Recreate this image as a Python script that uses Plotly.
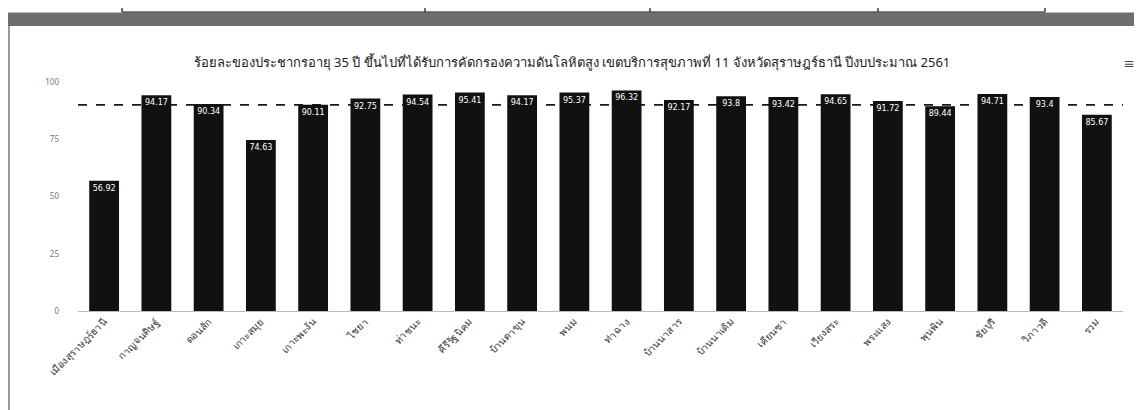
import plotly.graph_objects as go

title_text = "ร้อยละของประชากรอายุ 35 ปี ขึ้นไปที่ได้รับการคัดกรองความดันโลหิตสูง เขตบริการสุขภาพที่ 11 จังหวัดสุราษฎร์ธานี ปีงบประมาณ 2561"
districts = ["เมืองสุราษฎร์ธานี", "กาญจนดิษฐ์", "ดอนสัก", "เกาะสมุย", "เกาะพะงัน",
             "ไชยา", "ท่าชนะ", "คีรีรัฐนิคม", "บ้านตาขุน", "พนม", "ท่าฉาง",
             "บ้านนาสาร", "บ้านนาเดิม", "เคียนซา", "เวียงสระ", "พระแสง",
             "พุนพิน", "ชัยบุรี", "วิภาวดี", "รวม"]
values = [56.92, 94.17, 90.34, 74.63, 90.11, 92.75, 94.54, 95.41, 94.17, 95.37,
          96.32, 92.17, 93.8, 93.42, 94.65, 91.72, 89.44, 94.71, 93.4, 85.67]
target = 90
y_ticks = [0, 25, 50, 75, 100]
table_lines_x = [122, 425, 650, 878, 1045]

W, H = 1142, 410
OFF = 8  # page offset of the figure inside the browser window
# desired screen positions of the plot area
PX0, PX1, PY0, PY1 = 78, 1123, 82, 311
ML, MR, MT, MB = PX0 - OFF, W + OFF - PX1, PY0 - OFF, H + OFF - PY1

fig = go.Figure()
fig.add_trace(go.Bar(
    x=districts, y=values,
    marker=dict(color="#111111", line=dict(width=0)),
    text=[f"{v:g}" for v in values],
    textposition="inside", insidetextanchor="end",
    textfont=dict(color="white", size=8, family="DejaVu Sans"),
    textangle=0,
    cliponaxis=False,
    hoverinfo="x+y",
))


def px_x(px):
    return (px - PX0) / (PX1 - PX0)


def px_y(py):
    return 1 - (py - PY0) / (PY1 - PY0)


shapes = []
# target dashed line
shapes.append(dict(type="line", xref="paper", yref="y", x0=0, x1=1, y0=target, y1=target,
                   line=dict(color="#1a1a1a", width=1.6, dash="dash"), layer="below"))
# scanned header: table row and dark halftone strip
shapes.append(dict(type="rect", xref="paper", yref="paper", x0=px_x(0), x1=px_x(W + 20),
                   y0=px_y(26), y1=px_y(12.5), fillcolor="#6e6e6e", line=dict(width=0), layer="below"))
shapes.append(dict(type="line", xref="paper", yref="paper", x0=px_x(table_lines_x[0]), x1=px_x(table_lines_x[-1]),
                   y0=px_y(12), y1=px_y(12), line=dict(color="#111", width=1.2)))
for lx in table_lines_x:
    shapes.append(dict(type="line", xref="paper", yref="paper", x0=px_x(lx), x1=px_x(lx),
                       y0=px_y(OFF), y1=px_y(12), line=dict(color="#111", width=1.2)))
# left page border
shapes.append(dict(type="line", xref="paper", yref="paper", x0=px_x(OFF + 1), x1=px_x(OFF + 1),
                   y0=px_y(26), y1=px_y(H + 10), line=dict(color="#333", width=1)))

fig.update_layout(
    width=W, height=H,
    margin=dict(l=ML, r=MR, t=MT, b=MB),
    paper_bgcolor="white", plot_bgcolor="white",
    title=dict(text=title_text, x=px_x(572), xref="paper", xanchor="center",
               y=1 - (62 - OFF) / H, yanchor="middle",
               font=dict(family="Noto Sans", size=13, color="#222")),
    font=dict(family="Noto Sans", color="#333"),
    bargap=0.43,
    showlegend=False,
    shapes=shapes,
    xaxis=dict(tickangle=-45, tickfont=dict(size=10, color="#333"), showgrid=False,
               showline=True, linecolor="#bbbbbb", linewidth=1, ticks="", automargin=False),
    yaxis=dict(range=[0, 100], tickvals=y_ticks, tickfont=dict(size=8, color="#777"),
               showgrid=False, zeroline=False, showline=False, ticks="",
               ticklabelstandoff=18, automargin=False),
    annotations=[dict(text="≡", xref="paper", yref="paper", x=px_x(1129), y=px_y(63),
                      yanchor="middle", xanchor="center",
                      showarrow=False, font=dict(size=18, color="#444"))],
)

fig.write_html("out.html")
